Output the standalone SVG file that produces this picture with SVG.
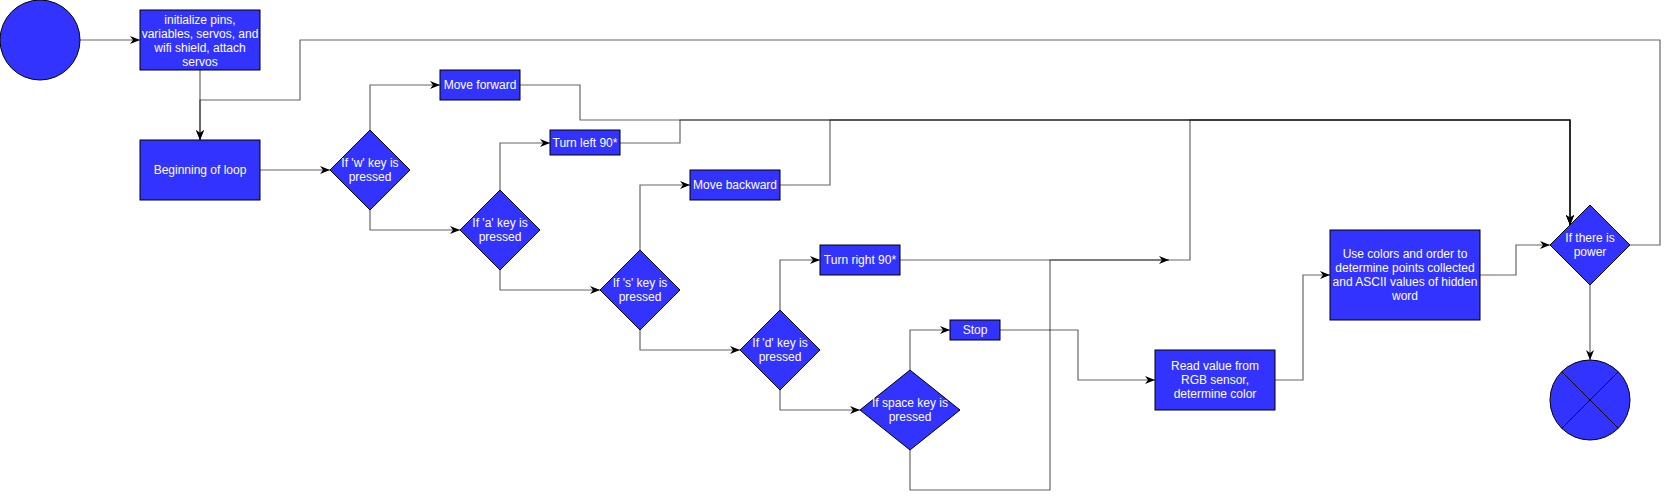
<svg xmlns="http://www.w3.org/2000/svg" width="1669" height="500" viewBox="0 0 1669 500">
<style>
.n{fill:#3333ff;stroke:#000;stroke-width:1}
.t{fill:#fff;font-family:"Liberation Sans",Arial,Helvetica,sans-serif;font-size:12px;text-anchor:middle}
.e{fill:none;stroke:#000;stroke-opacity:0.6;stroke-width:1.2}
.a{marker-end:url(#arr)}
</style>
<defs>
<marker id="arr" viewBox="0 0 10 8" refX="10" refY="4" markerWidth="10" markerHeight="8" markerUnits="userSpaceOnUse" orient="auto">
<path d="M0,0 L10,4 L0,8 L3,4 Z" fill="#000"/>
</marker>
</defs>
<rect width="1669" height="500" fill="#fff"/>
<g id="connectors">
<path class="e a" d="M80,40 H140"/>
<path class="e a" d="M200,70 V140"/>
<path class="e a" d="M1630,245 H1660 V40 H300 V100 H200 V140"/>
<path class="e a" d="M260,170 H330"/>
<path class="e a" d="M370,130 V85 H440"/>
<path class="e a" d="M370,210 V230 H460"/>
<path class="e a" d="M500,190 V143 H550"/>
<path class="e a" d="M500,270 V290 H600"/>
<path class="e a" d="M640,250 V185 H690"/>
<path class="e a" d="M640,330 V350 H740"/>
<path class="e a" d="M780,310 V260 H820"/>
<path class="e a" d="M780,390 V410 H860"/>
<path class="e a" d="M910,370 V330 H950"/>
<path class="e a" d="M1000,330 H1078 V380 H1155"/>
<path class="e a" d="M1275,380 H1303 V275 H1330"/>
<path class="e a" d="M1480,275 H1516 V245 H1550"/>
<path class="e a" d="M1590,285 V360"/>
<path class="e a" d="M520,85 H580 V120 H1570 V225"/>
<path class="e a" d="M620,143 H680 V120 H1570 V225"/>
<path class="e a" d="M780,185 H830 V120 H1570 V225"/>
<path class="e a" d="M900,260 H1190 V120 H1570 V225"/>
<path class="e a" d="M910,450 V490 H1050 V260 H1169"/>
</g>
<g id="start"><circle class="n" cx="40" cy="40" r="40"/></g>
<g id="init">
<rect class="n" x="140" y="10" width="120" height="60"/>
<text class="t" x="200" y="23.5">initialize pins,</text>
<text class="t" x="200" y="37.5">variables, servos, and</text>
<text class="t" x="200" y="51.5">wifi shield, attach</text>
<text class="t" x="200" y="65.5">servos</text>
</g>
<g id="loop">
<rect class="n" x="140" y="140" width="120" height="60"/>
<text class="t" x="200" y="174">Beginning of loop</text>
</g>
<g id="ifw">
<path class="n" d="M370,130 L410,170 L370,210 L330,170 Z"/>
<text class="t" x="370" y="167">If 'w' key is</text>
<text class="t" x="370" y="181">pressed</text>
</g>
<g id="forward">
<rect class="n" x="440" y="70" width="80" height="30"/>
<text class="t" x="480" y="89">Move forward</text>
</g>
<g id="ifa">
<path class="n" d="M500,190 L540,230 L500,270 L460,230 Z"/>
<text class="t" x="500" y="227">If 'a' key is</text>
<text class="t" x="500" y="241">pressed</text>
</g>
<g id="left">
<rect class="n" x="550" y="130" width="70" height="25"/>
<text class="t" x="585" y="147">Turn left 90*</text>
</g>
<g id="ifs">
<path class="n" d="M640,250 L680,290 L640,330 L600,290 Z"/>
<text class="t" x="640" y="287">If 's' key is</text>
<text class="t" x="640" y="301">pressed</text>
</g>
<g id="backward">
<rect class="n" x="690" y="170" width="90" height="30"/>
<text class="t" x="735" y="189">Move backward</text>
</g>
<g id="ifd">
<path class="n" d="M780,310 L820,350 L780,390 L740,350 Z"/>
<text class="t" x="780" y="347">If 'd' key is</text>
<text class="t" x="780" y="361">pressed</text>
</g>
<g id="right">
<rect class="n" x="820" y="245" width="80" height="30"/>
<text class="t" x="860" y="264">Turn right 90*</text>
</g>
<g id="ifspace">
<path class="n" d="M910,370 L960,410 L910,450 L860,410 Z"/>
<text class="t" x="910" y="407">If space key is</text>
<text class="t" x="910" y="421">pressed</text>
</g>
<g id="stop">
<rect class="n" x="950" y="320" width="50" height="20"/>
<text class="t" x="975" y="334">Stop</text>
</g>
<g id="read">
<rect class="n" x="1155" y="350" width="120" height="60"/>
<text class="t" x="1215" y="370">Read value from</text>
<text class="t" x="1215" y="384">RGB sensor,</text>
<text class="t" x="1215" y="398">determine color</text>
</g>
<g id="use">
<rect class="n" x="1330" y="230" width="150" height="90"/>
<text class="t" x="1405" y="258">Use colors and order to</text>
<text class="t" x="1405" y="272">determine points collected</text>
<text class="t" x="1405" y="286">and ASCII values of hidden</text>
<text class="t" x="1405" y="300">word</text>
</g>
<g id="power">
<path class="n" d="M1590,205 L1630,245 L1590,285 L1550,245 Z"/>
<text class="t" x="1590" y="242">If there is</text>
<text class="t" x="1590" y="256">power</text>
</g>
<g id="end">
<circle class="n" cx="1590" cy="400" r="40"/>
<path d="M1561.7,371.7 L1618.3,428.3 M1618.3,371.7 L1561.7,428.3" stroke="#000" stroke-width="1" fill="none"/>
</g>
</svg>
